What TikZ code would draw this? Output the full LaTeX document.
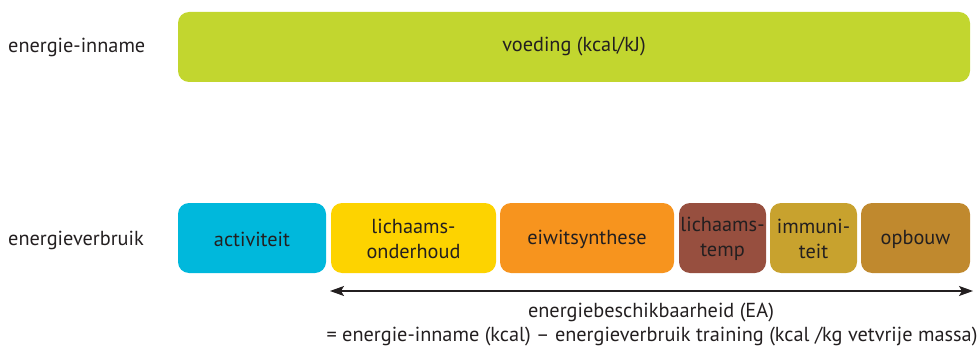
\documentclass[tikz,border=0pt]{standalone}
\usepackage{fontspec}
\setmainfont{PT Sans}
\usetikzlibrary{arrows.meta}
\definecolor{cgreen}{HTML}{C2D62F}
\definecolor{ccyan}{HTML}{00B8DC}
\definecolor{cyellow}{HTML}{FDD300}
\definecolor{corange}{HTML}{F7941E}
\definecolor{cbrown}{HTML}{974F3F}
\definecolor{cgold}{HTML}{C8A22E}
\definecolor{cochre}{HTML}{C0892E}
\definecolor{ctext}{HTML}{231F20}
\begin{document}
\begin{tikzpicture}[x=1pt,y=-1pt,
  every node/.style={text=ctext,font=\fontsize{20.3}{25}\selectfont},
  blk/.style={rounded corners=11pt},
  lbl/.style={anchor=west,inner sep=0pt},
  tip/.style={Stealth[length=14pt,width=10pt,inset=3pt]}]
\useasboundingbox (0,0) rectangle (979,350);
\fill[blk,cgreen] (178,12) rectangle (970,82);
\node (voeding) at (574,47) {voeding (kcal/kJ)};
\node[lbl] (inname) at (8,47) {energie-inname};
\node[lbl] (verbruik) at (8,240) {energieverbruik};
\foreach \a/\b/\c/\n/\t in {178/326/ccyan/act/activiteit,
  331/496/cyellow/onder/{lichaams-\\onderhoud},
  500/674/corange/eiwit/eiwitsynthese,
  679/766/cbrown/temp/{lichaams-\\temp},
  770/857/cgold/imm/{immuni-\\teit},
  861/970/cochre/opb/opbouw}{
  \fill[blk,\c] (\a,203) rectangle (\b,273);
  \node[align=center,inner sep=0pt] (\n) at ({(\a+\b)/2},239) {\t};
}
\coordinate (L) at (330,291);
\coordinate (R) at (973,291);
\draw[{Stealth[length=14pt,width=10pt,inset=3pt]}-{Stealth[length=14pt,width=10pt,inset=3pt]},line width=1.2pt,ctext] (L) -- (R);
\node (ea) at (651,313) {energiebeschikbaarheid (EA)};
\node (form) at (652,337) {= energie-inname (kcal) – energieverbruik training (kcal /kg vetvrije massa)};
\end{tikzpicture}
\end{document}
